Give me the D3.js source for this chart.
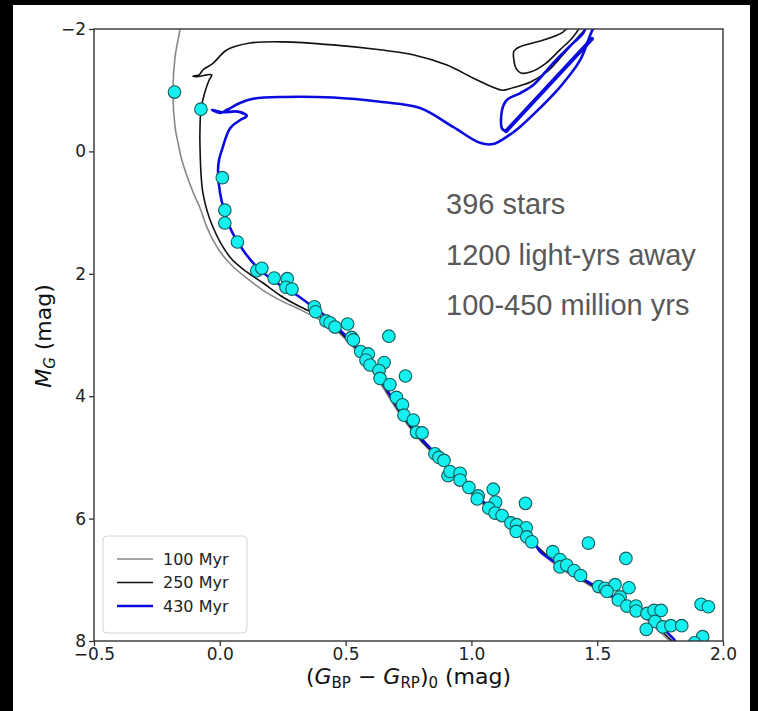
<!DOCTYPE html>
<html>

<head>
    <meta charset="UTF-8">
    <title>Cluster CMD</title>
    <style>
        body {
            margin: 0;
            background: #fff;
        }

        .axis text {
            font-family: "DejaVu Sans", sans-serif;
            font-size: 17px;
            fill: #222;
        }

        .axis path {
            display: none;
        }

        .axis line {
            stroke: #333;
            stroke-width: 1.3px;
        }

        .iso {
            fill: none;
            stroke-linejoin: round;
            stroke-linecap: round;
        }

        .label {
            font-family: "DejaVu Sans", sans-serif;
            font-size: 22px;
            fill: #111;
        }

        .note {
            font-family: "Liberation Sans", Arial, sans-serif;
            font-size: 29px;
            fill: #595959;
        }

        .legend text {
            font-family: "DejaVu Sans", sans-serif;
            font-size: 16px;
            fill: #222;
        }
    </style>
</head>

<body>
    <div class="chart"></div>

    <script src="https://cdn.jsdelivr.net/npm/d3@7"></script>

    <script>
        // axis ticks
        const xTicks = [-0.5, 0.0, 0.5, 1.0, 1.5, 2.0];
        const yTicks = [-2, 0, 2, 4, 6, 8];

        // isochrones, [colour, M_G]
        const iso100 = [[1.80, 8.05], [1.68, 7.6], [1.585, 7.36], [1.465, 7.08], [1.335, 6.76], [1.155, 6.07],
            [1.06, 5.81], [0.982, 5.53], [0.852, 4.96], [0.785, 4.67], [0.705, 4.23], [0.637, 3.78], [0.585, 3.46],
            [0.53, 3.2], [0.475, 2.97], [0.438, 2.85], [0.370, 2.69], [0.306, 2.56], [0.239, 2.43], [0.172, 2.27],
            [0.107, 2.07], [0.052, 1.88], [0.012, 1.70], [-0.027, 1.45], [-0.052, 1.23], [-0.079, 0.92],
            [-0.105, 0.68], [-0.151, 0.14], [-0.165, -0.12], [-0.178, -0.40], [-0.186, -0.97], [-0.178, -1.54],
            [-0.158, -2.0], [-0.154, -2.15]
        ];

        const iso250 = [[1.81, 8.05], [1.69, 7.6], [1.595, 7.36], [1.475, 7.08], [1.345, 6.76], [1.16, 6.07],
            [1.067, 5.81], [0.988, 5.53], [0.857, 4.96], [0.79, 4.67], [0.71, 4.23], [0.643, 3.78], [0.59, 3.46],
            [0.537, 3.2], [0.482, 2.97], [0.438, 2.80], [0.370, 2.64], [0.306, 2.51], [0.239, 2.35], [0.172, 2.15],
            [0.107, 1.97], [0.041, 1.73], [-0.027, 1.24], [-0.067, 0.68], [-0.079, -0.14], [-0.079, -0.30],
            [-0.075, -0.68], [-0.059, -0.97], [-0.042, -1.17], [-0.032, -1.25], [-0.095, -1.22], [-0.107, -1.23],
            [-0.083, -1.25], [-0.067, -1.33], [-0.027, -1.44], [0.029, -1.66], [0.120, -1.77], [0.251, -1.79],
            [0.450, -1.74], [0.637, -1.66], [0.768, -1.58], [0.903, -1.41], [1.006, -1.20], [1.086, -1.05],
            [1.122, -1.00], [1.165, -1.04], [1.233, -1.13], [1.300, -1.30], [1.364, -1.58], [1.420, -1.85],
            [1.459, -2.02], [1.49, -2.15]
        ];

        const iso250Loop = [[1.400, -2.15], [1.364, -1.95], [1.261, -1.79], [1.193, -1.71], [1.169, -1.64],
            [1.169, -1.49], [1.177, -1.36], [1.197, -1.28], [1.237, -1.30], [1.293, -1.43], [1.352, -1.66],
            [1.400, -1.85], [1.432, -2.03], [1.45, -2.15]
        ];

        const iso430 = [[1.817, 8.05], [1.80, 7.95], [1.698, 7.60], [1.603, 7.36], [1.483, 7.08], [1.352, 6.76],
            [1.273, 6.54], [1.245, 6.35], [1.165, 6.07], [1.074, 5.81], [0.994, 5.53], [0.863, 4.96], [0.796, 4.67],
            [0.716, 4.23], [0.688, 4.06], [0.649, 3.78], [0.597, 3.46], [0.545, 3.20], [0.490, 2.97], [0.438, 2.75],
            [0.370, 2.54], [0.307, 2.35], [0.227, 2.15], [0.148, 1.89], [0.092, 1.61], [0.04, 1.24], [0.001, 0.68],
            [-0.007, 0.30], [-0.003, 0.14], [0.008, -0.02], [0.041, -0.38], [0.080, -0.51], [0.107, -0.58],
            [0.072, -0.65], [0.009, -0.64], [-0.031, -0.68], [0.001, -0.63], [0.029, -0.68], [0.080, -0.79],
            [0.132, -0.86], [0.251, -0.89], [0.450, -0.88], [0.637, -0.81], [0.796, -0.71], [0.927, -0.40],
            [1.034, -0.14], [1.086, -0.12], [1.141, -0.24], [1.193, -0.40], [1.273, -0.71], [1.352, -1.05],
            [1.432, -1.49], [1.483, -2.0], [1.51, -2.15]
        ];

        const iso430Loop = [[1.463, -2.15], [1.444, -1.93], [1.404, -1.77], [1.324, -1.44], [1.245, -1.08],
            [1.193, -0.95], [1.141, -0.84], [1.122, -0.68], [1.122, -0.37], [1.138, -0.33]
        ];

        // red clump stretch, drawn heavier (many overlapping points)
        const iso430Clump = [[1.138, -0.33], [1.479, -1.84]];

        // cluster members, [colour, M_G]
        const stars = [[-0.18, -0.97], [-0.075, -0.69], [0.01, 0.43], [0.02, 0.96], [0.02, 1.17], [0.07, 1.48],
            [0.147, 1.95], [0.167, 1.91], [0.216, 2.07], [0.268, 2.08], [0.263, 2.22], [0.287, 2.25], [0.376, 2.54],
            [0.381, 2.62], [0.422, 2.77], [0.438, 2.80], [0.458, 2.87], [0.508, 2.82], [0.524, 3.04], [0.531, 3.08],
            [0.56, 3.27], [0.59, 3.31], [0.581, 3.41], [0.597, 3.49], [0.653, 3.45], [0.633, 3.58], [0.637, 3.71],
            [0.676, 3.81], [0.672, 3.02], [0.738, 3.67], [0.702, 4.02], [0.726, 4.14], [0.732, 4.31], [0.769, 4.39],
            [0.782, 4.59], [0.804, 4.60], [0.855, 4.94], [0.871, 5.00], [0.891, 5.05], [0.907, 5.30], [0.915, 5.23],
            [0.955, 5.26], [0.955, 5.37], [0.99, 5.49], [1.027, 5.63], [1.023, 5.68], [1.087, 5.52], [1.096, 5.73],
            [1.069, 5.83], [1.094, 5.91], [1.122, 5.95], [1.157, 6.07], [1.18, 6.10], [1.215, 5.75], [1.218, 6.15],
            [1.178, 6.21], [1.22, 6.30], [1.24, 6.38], [1.465, 6.40], [1.323, 6.54], [1.352, 6.67], [1.352, 6.79],
            [1.379, 6.76], [1.408, 6.85], [1.434, 6.93], [1.614, 6.65], [1.506, 7.11], [1.531, 7.14], [1.571, 7.08],
            [1.539, 7.19], [1.591, 7.28], [1.626, 7.13], [1.584, 7.33], [1.618, 7.43], [1.654, 7.43], [1.655, 7.51],
            [1.698, 7.55], [1.726, 7.50], [1.754, 7.50], [1.73, 7.68], [1.761, 7.77], [1.793, 7.75], [1.836, 7.75],
            [1.695, 7.81], [1.913, 7.40], [1.942, 7.44], [1.919, 7.93], [1.887, 8.03]
        ];

        const legendLabels = ['100 Myr', '250 Myr', '430 Myr'];
        const notes = ['396 stars', '1200 light-yrs away', '100-450 million yrs'];

        const W = 758, H = 711;
        const margin = { top: 29, right: 35, bottom: 70, left: 94 };
        const width = W - margin.left - margin.right;
        const height = H - margin.top - margin.bottom;

        const svg = d3.select('.chart')
            .append('svg')
            .attr('width', W)
            .attr('height', H);

        // screenshot frame
        svg.append('rect').attr('x', 0).attr('y', 0).attr('width', 13).attr('height', H).attr('fill', '#000');
        svg.append('rect').attr('x', 0).attr('y', 0).attr('width', W).attr('height', 5).attr('fill', '#000');
        svg.append('rect').attr('x', 750).attr('y', 0).attr('width', 8).attr('height', H).attr('fill', '#000');

        const g = svg.append('g')
            .attr('transform', `translate(${ margin.left },${ margin.top })`);

        const x = d3.scaleLinear().domain([-0.5, 2.0]).range([0, width]);
        const y = d3.scaleLinear().domain([-2, 8]).range([0, height]);

        g.append('clipPath')
            .attr('id', 'plot-clip')
            .append('rect')
            .attr('width', width)
            .attr('height', height);

        const line = d3.line()
            .x(d => x(d[0]))
            .y(d => y(d[1]))
            .curve(d3.curveCatmullRom.alpha(0.5));

        const plot = g.append('g').attr('clip-path', 'url(#plot-clip)');

        const curves = [
            { data: iso100, color: '#888', w: 1.6 },
            { data: iso250, color: '#111', w: 1.6 },
            { data: iso250Loop, color: '#111', w: 1.6 },
            { data: iso430, color: '#0b0be0', w: 2.6 },
            { data: iso430Loop, color: '#0b0be0', w: 2.6 },
            { data: iso430Clump, color: '#0b0be0', w: 4 }
        ];

        plot.selectAll('.iso')
            .data(curves)
            .enter()
            .append('path')
            .attr('class', 'iso')
            .attr('d', d => line(d.data))
            .style('stroke', d => d.color)
            .style('stroke-width', d => d.w);

        plot.selectAll('.star')
            .data(stars)
            .enter()
            .append('circle')
            .attr('class', 'star')
            .attr('cx', d => x(d[0]))
            .attr('cy', d => y(d[1]))
            .attr('r', 6.3)
            .attr('fill', '#14f0f0')
            .attr('stroke', '#175c5c')
            .attr('stroke-width', 1.1);

        // axes
        const xAxis = d3.axisBottom(x)
            .tickValues(xTicks)
            .tickFormat(d3.format('.1f'))
            .tickSize(5)
            .tickPadding(2);

        const yAxis = d3.axisLeft(y)
            .tickValues(yTicks)
            .tickFormat(d3.format('d'))
            .tickSize(5)
            .tickPadding(3);

        g.append('g')
            .attr('class', 'axis x-axis')
            .attr('transform', `translate(0,${ height })`)
            .call(xAxis);

        g.append('g')
            .attr('class', 'axis y-axis')
            .call(yAxis);

        g.append('rect')
            .attr('width', width)
            .attr('height', height)
            .attr('fill', 'none')
            .attr('stroke', '#333')
            .attr('stroke-width', 1.4);

        // axis labels
        const xl = svg.append('text')
            .attr('class', 'label')
            .attr('x', margin.left + width / 2)
            .attr('y', 684)
            .attr('text-anchor', 'middle');
        xl.append('tspan').text('(');
        xl.append('tspan').attr('font-style', 'italic').text('G');
        xl.append('tspan').attr('font-size', '15px').attr('dy', 4).text('BP');
        xl.append('tspan').attr('dy', -4).text(' \u2212 ');
        xl.append('tspan').attr('font-style', 'italic').text('G');
        xl.append('tspan').attr('font-size', '15px').attr('dy', 4).text('RP');
        xl.append('tspan').attr('dy', -4).text(')');
        xl.append('tspan').attr('font-size', '15px').attr('dy', 4).text('0');
        xl.append('tspan').attr('dy', -4).text(' (mag)');

        const yl = svg.append('text')
            .attr('class', 'label')
            .attr('transform', 'translate(51,336) rotate(-90)')
            .attr('text-anchor', 'middle');
        yl.append('tspan').attr('font-style', 'italic').text('M');
        yl.append('tspan').attr('font-size', '15px').attr('font-style', 'italic').attr('dy', 4).text('G');
        yl.append('tspan').attr('dy', -4).text(' (mag)');

        // notes
        svg.selectAll('.note')
            .data(notes)
            .enter()
            .append('text')
            .attr('class', 'note')
            .attr('x', 446)
            .attr('y', (d, i) => 214 + i * 50.5)
            .text(d => d);

        // legend
        const legend = svg.append('g')
            .attr('class', 'legend')
            .attr('transform', 'translate(103,536)');

        legend.append('rect')
            .attr('width', 144)
            .attr('height', 97)
            .attr('rx', 4)
            .attr('fill', '#fff')
            .attr('fill-opacity', 0.8)
            .attr('stroke', '#d4d4d4');

        const items = legend.selectAll('.legend-item')
            .data(legendLabels)
            .enter()
            .append('g')
            .attr('class', 'legend-item')
            .attr('transform', (d, i) => `translate(0,${ 23 + i * 23.5 })`);

        items.append('line')
            .attr('x1', 14)
            .attr('x2', 50)
            .style('stroke', (d, i) => curves[[0, 1, 3][i]].color)
            .style('stroke-width', (d, i) => curves[[0, 1, 3][i]].w);

        items.append('text')
            .attr('x', 60)
            .attr('dy', '0.36em')
            .text(d => d);
    </script>
</body>

</html>
